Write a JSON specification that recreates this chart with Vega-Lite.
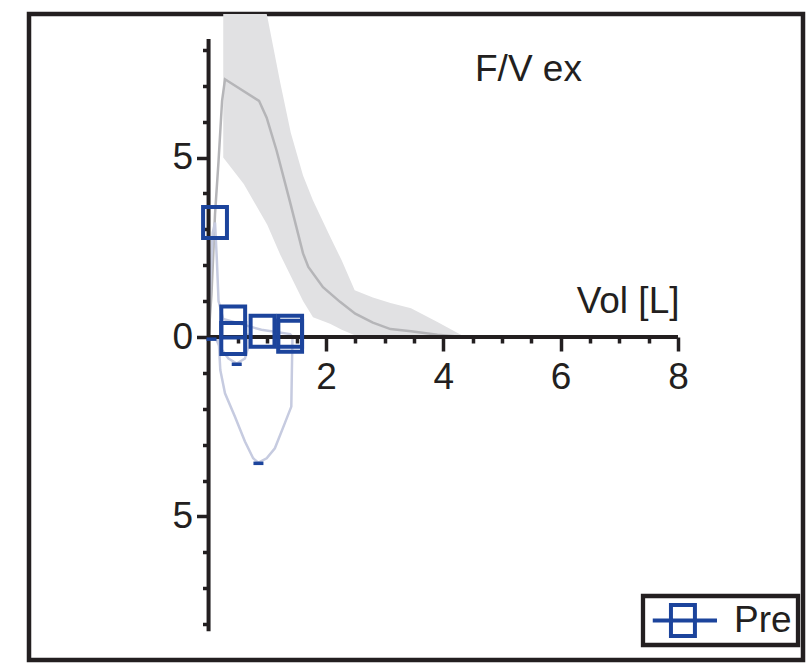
{
  "$schema": "https://vega.github.io/schema/vega-lite/v6.json",
  "width": 774,
  "height": 646,
  "autosize": {"type": "none"},
  "padding": {"left": 29, "top": 14, "right": 3, "bottom": 6},
  "background": "white",
  "config": {
    "view": {"stroke": "#231f20", "strokeWidth": 4.5},
    "font": "Liberation Sans, Arial, sans-serif",
    "legend": {"strokeWidth": 4.3}
  },
  "title": {
    "text": "F/V ex",
    "orient": "top",
    "anchor": "start",
    "frame": "group",
    "baseline": "alphabetic",
    "offset": 0,
    "dx": 446,
    "dy": 104,
    "font": "Liberation Sans, Arial, sans-serif",
    "fontSize": 37,
    "fontWeight": "normal",
    "color": "#231f20"
  },
  "datasets": {
    "band": [
      {"x": 0.25, "hi": 14, "lo": 5.0},
      {"x": 0.6, "hi": 11.6, "lo": 4.26},
      {"x": 1.0, "hi": 8.94, "lo": 3.13},
      {"x": 1.22, "hi": 7.1, "lo": 2.3},
      {"x": 1.4, "hi": 5.7, "lo": 1.7},
      {"x": 1.61, "hi": 4.5, "lo": 1.0},
      {"x": 1.78, "hi": 3.8, "lo": 0.55},
      {"x": 2.07, "hi": 2.8, "lo": 0.37},
      {"x": 2.27, "hi": 2.13, "lo": 0.2},
      {"x": 2.49, "hi": 1.3, "lo": 0.05},
      {"x": 2.8, "hi": 1.1, "lo": 0},
      {"x": 3.1, "hi": 0.95, "lo": 0},
      {"x": 3.45, "hi": 0.8, "lo": 0},
      {"x": 3.9, "hi": 0.42, "lo": 0},
      {"x": 4.37, "hi": 0.0, "lo": 0}
    ],
    "median": [
      {"i": 1, "x": 0.0, "y": 0.0},
      {"i": 2, "x": 0.05, "y": 1.2},
      {"i": 3, "x": 0.11, "y": 3.42},
      {"i": 4, "x": 0.17, "y": 4.9},
      {"i": 5, "x": 0.23, "y": 6.58},
      {"i": 6, "x": 0.28, "y": 7.18},
      {"i": 7, "x": 0.86, "y": 6.58},
      {"i": 8, "x": 0.99, "y": 6.11},
      {"i": 9, "x": 1.16, "y": 5.19},
      {"i": 10, "x": 1.39, "y": 3.75},
      {"i": 11, "x": 1.61, "y": 2.33},
      {"i": 12, "x": 1.7, "y": 1.95},
      {"i": 13, "x": 1.95, "y": 1.39},
      {"i": 14, "x": 2.24, "y": 0.98},
      {"i": 15, "x": 2.5, "y": 0.65},
      {"i": 16, "x": 2.8, "y": 0.4},
      {"i": 17, "x": 3.1, "y": 0.22},
      {"i": 18, "x": 3.45, "y": 0.16},
      {"i": 19, "x": 3.9, "y": 0.06},
      {"i": 20, "x": 4.34, "y": 0.0}
    ],
    "loop": [
      {"trial": "a", "i": 1, "x": 0.0, "y": 0.0},
      {"trial": "a", "i": 2, "x": 0.03, "y": 1.5},
      {"trial": "a", "i": 3, "x": 0.07, "y": 2.9},
      {"trial": "a", "i": 4, "x": 0.11, "y": 3.19},
      {"trial": "a", "i": 5, "x": 0.14, "y": 2.2},
      {"trial": "a", "i": 6, "x": 0.17, "y": 1.0},
      {"trial": "a", "i": 7, "x": 0.25, "y": 0.5},
      {"trial": "a", "i": 8, "x": 0.43, "y": 0.42},
      {"trial": "a", "i": 9, "x": 0.9, "y": 0.2},
      {"trial": "a", "i": 10, "x": 1.39, "y": 0.08},
      {"trial": "a", "i": 11, "x": 1.43, "y": 0.0},
      {"trial": "a", "i": 12, "x": 1.42, "y": -0.92},
      {"trial": "a", "i": 13, "x": 1.41, "y": -1.94},
      {"trial": "a", "i": 14, "x": 1.3, "y": -2.4},
      {"trial": "a", "i": 15, "x": 1.13, "y": -3.1},
      {"trial": "a", "i": 16, "x": 0.99, "y": -3.38},
      {"trial": "a", "i": 17, "x": 0.85, "y": -3.5},
      {"trial": "a", "i": 18, "x": 0.76, "y": -3.38},
      {"trial": "a", "i": 19, "x": 0.62, "y": -2.91},
      {"trial": "a", "i": 20, "x": 0.45, "y": -2.22},
      {"trial": "a", "i": 21, "x": 0.28, "y": -1.57},
      {"trial": "a", "i": 22, "x": 0.2, "y": -0.92},
      {"trial": "a", "i": 23, "x": 0.17, "y": 0.0},
      {"trial": "b", "i": 1, "x": 0.11, "y": 0.0},
      {"trial": "b", "i": 2, "x": 0.2, "y": -0.3},
      {"trial": "b", "i": 3, "x": 0.34, "y": -0.6},
      {"trial": "b", "i": 4, "x": 0.48, "y": -0.74},
      {"trial": "b", "i": 5, "x": 0.62, "y": -0.6},
      {"trial": "b", "i": 6, "x": 0.68, "y": -0.27},
      {"trial": "b", "i": 7, "x": 0.68, "y": 0.1}
    ],
    "markers": [
      {"series": "Pre", "x": 0.11, "y": 3.19},
      {"series": "Pre", "x": 0.42, "y": 0.42},
      {"series": "Pre", "x": 0.42, "y": -0.04},
      {"series": "Pre", "x": 0.92, "y": 0.16},
      {"series": "Pre", "x": 1.39, "y": 0.16},
      {"series": "Pre", "x": 1.39, "y": 0.02}
    ],
    "dashes": [
      {"x": 0.48, "y": -0.76},
      {"x": 0.85, "y": -3.52},
      {"x": 0.05, "y": -0.06}
    ],
    "axes": [
      {"x": 0, "x2": 8, "y": 0, "y2": 0},
      {"x": 0, "x2": 0, "y": -8.2, "y2": 8.3}
    ]
  },
  "layer": [
    {
      "data": {"name": "band"},
      "mark": {"type": "area", "color": "#e1e1e3", "clip": true},
      "encoding": {
        "x": {
          "field": "x", "type": "quantitative",
          "scale": {"domain": [-3.06, 10.13], "nice": false, "zero": false},
          "axis": {
            "orient": "bottom",
            "offset": -323,
            "values": [0.5, 1, 1.5, 2, 2.5, 3, 3.5, 4, 4.5, 5, 5.5, 6, 6.5, 7, 7.5, 8],
            "domain": false,
            "grid": false,
            "tickColor": "#231f20",
            "tickWidth": 3.5,
            "tickSize": {"condition": {"test": "datum.value % 2 === 0", "value": 14}, "value": 6},
            "labelExpr": "datum.value % 2 === 0 ? format(datum.value, 'd') : ''",
            "labelFont": "Liberation Sans, Arial, sans-serif",
            "labelFontSize": 37,
            "labelColor": "#231f20",
            "labelPadding": 8,
            "labelFlush": false,
            "labelOverlap": false,
            "title": "Vol [L]",
            "titleFont": "Liberation Sans, Arial, sans-serif",
            "titleFontSize": 37,
            "titleFontWeight": "normal",
            "titleColor": "#231f20",
            "titleAlign": "right",
            "titleBaseline": "alphabetic",
            "titleX": 650,
            "titleY": -25
          }
        },
        "y": {
          "field": "hi", "type": "quantitative",
          "scale": {"domain": [-9, 9], "nice": false, "zero": false},
          "axis": {
            "orient": "left",
            "offset": -179.5,
            "values": [-8, -7, -6, -5, -4, -3, -2, -1, 0, 1, 2, 3, 4, 5, 6, 7, 8],
            "domain": false,
            "grid": false,
            "tickColor": "#231f20",
            "tickWidth": 3.5,
            "tickSize": {"condition": {"test": "datum.value % 5 === 0", "value": 12}, "value": 6},
            "labelExpr": "datum.value % 5 === 0 ? format(abs(datum.value), 'd') : ''",
            "labelFont": "Liberation Sans, Arial, sans-serif",
            "labelFontSize": 37,
            "labelColor": "#231f20",
            "labelPadding": 4,
            "labelFlush": false,
            "labelOverlap": false,
            "title": null
          }
        },
        "y2": {"field": "lo"}
      }
    },
    {
      "data": {"name": "median"},
      "mark": {"type": "line", "color": "#b5b5b8", "strokeWidth": 2.5, "clip": true},
      "encoding": {
        "x": {"field": "x", "type": "quantitative", "title": "Vol [L]"},
        "y": {"field": "y", "type": "quantitative", "title": null},
        "order": {"field": "i", "type": "quantitative"}
      }
    },
    {
      "data": {"name": "loop"},
      "mark": {"type": "line", "color": "#c6cbe0", "strokeWidth": 2.5, "clip": true},
      "encoding": {
        "x": {"field": "x", "type": "quantitative", "title": "Vol [L]"},
        "y": {"field": "y", "type": "quantitative", "title": null},
        "detail": {"field": "trial", "type": "nominal"},
        "order": {"field": "i", "type": "quantitative"}
      }
    },
    {
      "data": {"name": "axes"},
      "mark": {"type": "rule", "color": "#231f20", "strokeWidth": 4},
      "encoding": {
        "x": {"field": "x", "type": "quantitative", "title": "Vol [L]"},
        "x2": {"field": "x2"},
        "y": {"field": "y", "type": "quantitative", "title": null},
        "y2": {"field": "y2"}
      }
    },
    {
      "data": {"name": "dashes"},
      "mark": {"type": "tick", "orient": "horizontal", "color": "#1c449c", "size": 10, "thickness": 3.5, "opacity": 1},
      "encoding": {
        "x": {"field": "x", "type": "quantitative", "title": "Vol [L]"},
        "y": {"field": "y", "type": "quantitative", "title": null}
      }
    },
    {
      "data": {"name": "markers"},
      "mark": {"type": "point", "shape": "M-0.77,-1H0.77V1H-0.77Z", "size": 961, "filled": false, "strokeWidth": 4, "opacity": 1},
      "encoding": {
        "x": {"field": "x", "type": "quantitative", "title": "Vol [L]"},
        "y": {"field": "y", "type": "quantitative", "title": null},
        "color": {
          "field": "series", "type": "nominal",
          "scale": {"range": ["#1c449c"]},
          "legend": {
            "orient": "none",
            "legendX": 614,
            "legendY": 582,
            "title": null,
            "padding": 6,
            "clipHeight": 37,
            "strokeColor": "#231f20",
            "fillColor": "white",
            "symbolType": "M-0.9,0H2.77M0.14,-0.89H1.51V0.89H0.14Z",
            "symbolSize": 1225,
            "symbolStrokeWidth": 4,
            "symbolStrokeColor": "#1c449c",
            "symbolFillColor": "transparent",
            "labelFont": "Liberation Sans, Arial, sans-serif",
            "labelFontSize": 37,
            "labelColor": "#231f20",
            "labelOffset": 46
          }
        }
      }
    }
  ]
}
